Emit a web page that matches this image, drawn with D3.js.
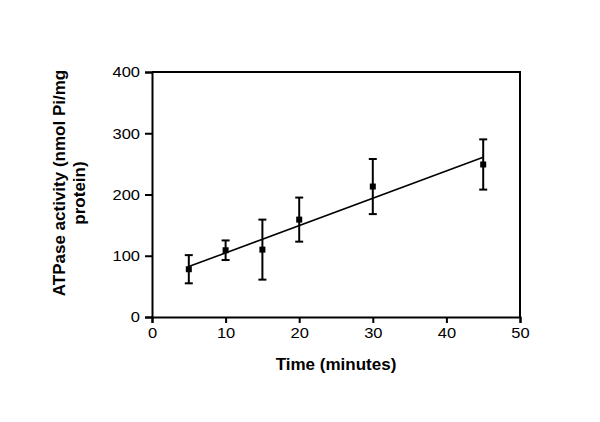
<!DOCTYPE html>
<html>
<head>
<meta charset="utf-8">
<script src="https://cdn.jsdelivr.net/npm/d3@7"></script>
<style>
  body { margin: 0; background: #fff; }
  text { font-family: "Liberation Sans", Arial, sans-serif; fill: #000; }
</style>
</head>
<body>
<div id="chart"></div>
<script>
// data
var times = [5, 10, 15, 20, 30, 45];
var activity = [78, 109, 110, 159, 213, 249];
var errors = [23, 16, 49, 36, 45, 41];
var xTicks = [0, 10, 20, 30, 40, 50];
var yTicks = [0, 100, 200, 300, 400];

var width = 600, height = 422;
var margin = {left: 152, right: 80, top: 72, bottom: 105};

var svg = d3.select("#chart").append("svg")
    .attr("width", width)
    .attr("height", height);

var x = d3.scaleLinear().domain([0, 50]).range([margin.left, width - margin.right]);
var y = d3.scaleLinear().domain([0, 400]).range([height - margin.bottom, margin.top]);

// frame (top and right)
svg.append("path")
    .attr("d", "M" + x(0) + "," + y(400) + "H" + x(50) + "V" + y(0))
    .attr("fill", "none")
    .attr("stroke", "#000")
    .attr("stroke-width", 2);

// axes
var xAxis = svg.append("g")
    .attr("transform", "translate(0," + y(0) + ")")
    .call(d3.axisBottom(x).tickValues(xTicks).tickSize(6).tickPadding(4));
var yAxis = svg.append("g")
    .attr("transform", "translate(" + x(0) + ",0)")
    .call(d3.axisLeft(y).tickValues(yTicks).tickSize(7).tickPadding(3));

[xAxis, yAxis].forEach(function(a) {
    a.select(".domain").attr("stroke-width", 2);
    a.selectAll(".tick line").attr("stroke-width", 2);
    a.selectAll(".tick text")
        .style("font-size", "15px")
        .attr("fill", "#000");
});
// digits are a little wider in the picture
xAxis.selectAll(".tick text").attr("transform", "scale(1.1,1)");
yAxis.selectAll(".tick text").attr("transform", "scale(1.1,1)")
    .attr("x", -12 / 1.1);

// linear fit
var mx = d3.mean(times), my = d3.mean(activity);
var sxy = d3.sum(times, function(t, i) { return (t - mx) * (activity[i] - my); });
var sxx = d3.sum(times, function(t) { return (t - mx) * (t - mx); });
var slope = sxy / sxx, intercept = my - slope * mx;
var x0 = d3.min(times), x1 = d3.max(times);

svg.append("line")
    .attr("x1", x(x0)).attr("y1", y(intercept + slope * x0))
    .attr("x2", x(x1)).attr("y2", y(intercept + slope * x1))
    .attr("stroke", "#000")
    .attr("stroke-width", 1.6);

// error bars
var eb = svg.append("g").attr("stroke", "#000").attr("stroke-width", 2);
times.forEach(function(t, i) {
    var cx = x(t), top = y(activity[i] + errors[i]), bot = y(activity[i] - errors[i]);
    eb.append("line").attr("x1", cx).attr("x2", cx).attr("y1", top).attr("y2", bot);
    eb.append("line").attr("x1", cx - 4).attr("x2", cx + 4).attr("y1", top).attr("y2", top);
    eb.append("line").attr("x1", cx - 4).attr("x2", cx + 4).attr("y1", bot).attr("y2", bot);
});

// points
svg.selectAll("rect.pt")
    .data(times)
    .enter()
    .append("rect")
    .attr("class", "pt")
    .attr("x", function(d) { return x(d) - 3; })
    .attr("y", function(d, i) { return y(activity[i]) - 3; })
    .attr("width", 6)
    .attr("height", 6)
    .attr("fill", "#000");

// axis titles
svg.append("text")
    .attr("x", 336)
    .attr("y", 370)
    .attr("text-anchor", "middle")
    .style("font-size", "17px")
    .style("font-weight", "bold")
    .text("Time (minutes)");

svg.append("text")
    .attr("transform", "translate(65,183) rotate(-90)")
    .attr("text-anchor", "middle")
    .style("font-size", "17px")
    .style("font-weight", "bold")
    .text("ATPase activity (nmol Pi/mg");
svg.append("text")
    .attr("transform", "translate(85,193) rotate(-90)")
    .attr("text-anchor", "middle")
    .style("font-size", "17px")
    .style("font-weight", "bold")
    .text("protein)");
</script>
</body>
</html>
